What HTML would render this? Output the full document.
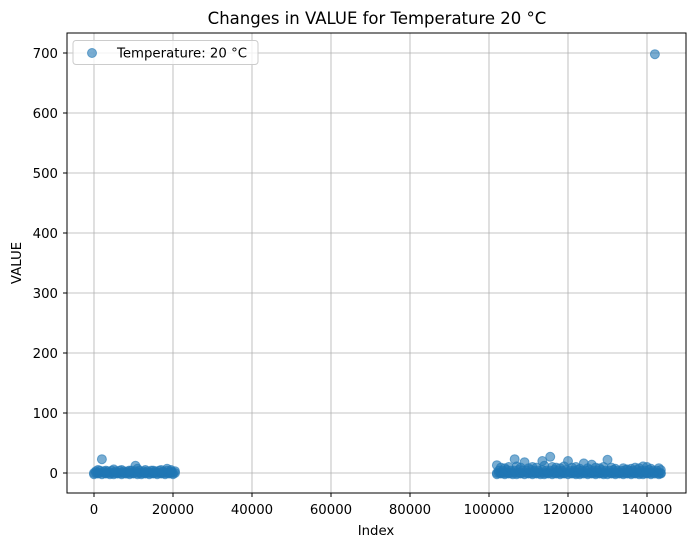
<!DOCTYPE html>
<html><head><meta charset="utf-8"><style>
body{margin:0;background:#fff;}
svg{display:block;font-family:"DejaVu Sans","Liberation Sans",sans-serif;}
</style></head><body>
<svg id="chart" width="695" height="547" viewBox="0 0 695 547">
<rect x="0" y="0" width="695" height="547" fill="#fff"/>
<g id="grid"></g>
<g id="marks"></g>
<rect x="67" y="33" width="619" height="460" fill="none" stroke="#000" stroke-width="1"/>
<g id="xticks"></g>
<g id="yticks"></g>
<text x="377" y="24" text-anchor="middle" font-size="16.5">Changes in VALUE for Temperature 20 °C</text>
<text x="376" y="535" text-anchor="middle" font-size="13.3">Index</text>
<text x="21" y="263" text-anchor="middle" font-size="13.3" transform="rotate(-90 21 263)">VALUE</text>
<g>
<rect x="73" y="40.5" width="185" height="24" rx="3" fill="#fff" fill-opacity="0.8" stroke="#ccc"/>
<circle cx="92" cy="53" r="4.5" fill="#1f77b4" fill-opacity="0.6" stroke="#1f77b4" stroke-opacity="0.6"/>
<text x="117" y="57.5" font-size="13.3">Temperature: 20 °C</text>
</g>
</svg>
<script>
const xTicks = [0,20000,40000,60000,80000,100000,120000,140000];
const yTicks = [0,100,200,300,400,500,600,700];
const indices = [0,500,1000,1500,2000,2500,3000,3500,4000,4500,5000,5500,6000,6500,7000,7500,8000,8500,9000,9500,10000,10500,11000,11500,12000,12500,13000,13500,14000,14500,15000,15500,16000,16500,17000,17500,18000,18500,19000,19500,20000,20500,
 0,1000,2000,3000,4000,5000,6000,7000,8000,9000,10000,11000,12000,13000,14000,15000,16000,17000,18000,19000,20000,
 500,1500,2500,3500,4500,5500,6500,7500,8500,9500,10500,11500,12500,13500,14500,15500,16500,17500,18500,19500,20500,
 1000,3000,5000,7000,9000,11000,13000,15000,17000,18500,19500,
 102000,102500,103000,103500,104000,104500,105000,105500,106000,106500,107000,107500,108000,108500,109000,109500,110000,110500,111000,111500,112000,112500,113000,113500,114000,114500,115000,115500,116000,116500,117000,117500,118000,118500,119000,119500,120000,120500,121000,121500,122000,122500,123000,123500,124000,124500,125000,125500,126000,126500,127000,127500,128000,128500,129000,129500,130000,130500,131000,131500,132000,132500,133000,133500,134000,134500,135000,135500,136000,136500,137000,137500,138000,138500,139000,139500,140000,140500,141000,141500,142000,142500,143000,143500,
 102000,103000,104000,105000,106000,107000,108000,109000,110000,111000,112000,113000,114000,115000,116000,117000,118000,119000,120000,121000,122000,123000,124000,125000,126000,127000,128000,129000,130000,131000,132000,133000,134000,135000,136000,137000,138000,139000,140000,141000,142000,143000,143500,
 102500,103500,104500,105500,106500,107500,108500,109500,110500,111500,112500,113500,114500,115500,116500,117500,118500,119500,120500,121500,122500,123500,124500,125500,126500,127500,128500,129500,130500,131500,132500,133500,134500,135500,136500,137500,138500,139500,140500,141500,142500,143500,
 102000,103000,104000,105000,107000,108000,110000,111000,112000,114000,116000,117000,118000,119000,121000,122000,123000,125000,126000,127000,128000,129000,131000,132000,134000,135000,136000,137000,138000,139000,140000,141000,143000];
const values = [0,0,0,0,23,0,0,0,0,0,0,0,0,0,0,0,0,0,0,0,0,12,0,0,0,0,0,0,0,0,0,0,0,0,0,0,0,0,0,0,0,0,
 -2,-1,-2,-1,-2,-2,-1,-2,-1,-2,-1,-2,-2,-1,-2,-1,-2,-1,-2,-1,-2,
 3,4,3,3,4,3,4,3,3,4,3,4,3,3,4,3,4,3,4,3,3,
 5,4,6,5,4,7,5,4,5,7,5,
 0,0,0,0,0,0,0,0,0,23,0,0,0,0,18,0,0,0,0,0,0,0,0,20,0,0,0,27,0,0,0,0,0,0,0,0,20,0,0,0,0,0,0,0,16,0,0,0,0,0,0,0,0,0,0,0,22,0,0,0,0,0,0,0,0,0,0,0,0,0,0,0,0,0,0,0,0,0,0,0,698,0,0,0,
 -2,-1,-2,-1,-2,-2,-1,-2,-1,-2,-1,-2,-2,-1,-2,-1,-2,-1,-2,-1,-2,-2,-1,-2,-1,-2,-1,-2,-2,-1,-2,-1,-2,-1,-2,-1,-2,-2,-1,-2,-1,-2,-1,
 4,4,5,4,4,5,4,4,5,4,4,5,4,4,5,4,4,5,4,4,5,4,4,5,4,4,5,4,4,5,4,4,5,4,4,5,4,4,5,4,4,5,
 13,9,8,10,11,9,8,10,9,12,10,9,8,11,9,10,7,8,14,9,8,10,9,7,8,6,7,9,8,11,10,7,8];
const X = v => 94 + v * 79.0 / 20000;
const Y = v => 473 - v * 0.6;
const NS = "http://www.w3.org/2000/svg";
const grid = document.getElementById('grid'), xt = document.getElementById('xticks'), yt = document.getElementById('yticks'), marks = document.getElementById('marks');
function mk(tag, attrs, parent){const e=document.createElementNS(NS,tag);for(const k in attrs)e.setAttribute(k,attrs[k]);parent.appendChild(e);return e;}
xTicks.forEach(t=>{
 const x=X(t);
 const g=mk('line',{x1:x,x2:x,y1:33,y2:493,stroke:'#b0b0b0','stroke-width':0.8},grid);
 
 
 mk('line',{x1:x,x2:x,y1:493,y2:497,stroke:'#000'},xt);
 const l=mk('text',{x:x,y:514,'text-anchor':'middle','font-size':13.3},xt);
 l.textContent=t;
 
 
});
yTicks.forEach(t=>{
 const y=Y(t);
 const g=mk('line',{x1:67,x2:686,y1:y,y2:y,stroke:'#b0b0b0','stroke-width':0.8},grid);
 
 
 mk('line',{x1:63,x2:67,y1:y,y2:y,stroke:'#000'},yt);
 const l=mk('text',{x:58,y:y+5,'text-anchor':'end','font-size':13.3},yt);
 l.textContent=t;
 
 
});
indices.forEach((ix,i)=>{
 const c=mk('circle',{cx:X(ix),cy:Y(values[i]),r:4.5,fill:'#1f77b4','fill-opacity':0.6,stroke:'#1f77b4','stroke-opacity':0.6},marks);
 
 
});
</script>
</body></html>
